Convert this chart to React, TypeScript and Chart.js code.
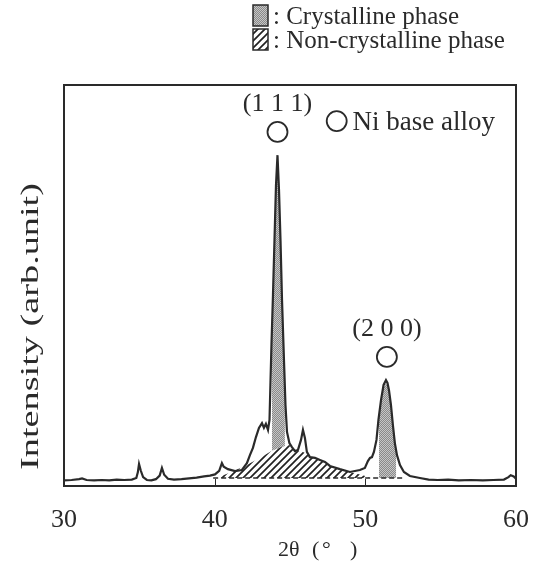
import React, { useEffect, useRef } from 'react';
import { Chart, registerables } from 'chart.js';

Chart.register(...registerables);

// ---- data (2θ in degrees, intensity in arbitrary units 0..100) ----
const angle = [
  30.0, 30.5, 31.0, 31.2, 31.5, 32.0, 32.5, 33.0, 33.5, 34.0, 34.5, 34.8, 34.9, 34.98, 35.1, 35.25, 35.5, 35.8,
  36.1, 36.35, 36.5, 36.65, 36.9, 37.3, 37.8, 38.3, 38.8, 39.3, 39.69, 40.02, 40.3, 40.48, 40.6, 40.88, 41.35,
  41.81, 42.14, 42.34, 42.54, 42.74, 42.94, 43.14, 43.27, 43.4, 43.54, 43.64, 43.7, 43.77, 43.87, 43.97, 44.07,
  44.17, 44.27, 44.37, 44.47, 44.6, 44.7, 44.8, 44.96, 45.13, 45.33, 45.53, 45.73, 45.86, 45.99, 46.12, 46.32,
  46.66, 46.99, 47.32, 47.65, 48.31, 48.98, 49.64, 49.97, 50.17, 50.31, 50.44, 50.57, 50.74, 50.87, 51.04,
  51.21, 51.37, 51.47, 51.57, 51.7, 51.83, 51.96, 52.1, 52.3, 52.56, 52.96, 53.62, 54.2, 54.8, 55.5, 56.2,
  57.0, 57.8, 58.5, 59.2, 59.5, 59.65, 59.85, 60.0,
];
const intensity = [
  1.4, 1.5, 1.7, 1.9, 1.5, 1.4, 1.5, 1.4, 1.6, 1.5, 1.6, 2.0, 3.4, 5.5, 3.8, 2.2, 1.5, 1.4,
  1.7, 2.6, 4.5, 2.8, 1.8, 1.6, 1.7, 1.9, 2.1, 2.4, 2.6, 2.9, 3.8, 5.7, 4.8, 4.2, 3.7,
  4.0, 5.7, 7.7, 9.5, 12.2, 14.5, 15.7, 14.5, 15.5, 14.0, 16.5, 25.2, 35.2, 47.6, 61.3, 75.0,
  82.5, 73.8, 61.3, 46.4, 31.4, 20.2, 13.5, 10.7, 9.7, 8.7, 9.0, 11.5, 14.0, 12.0, 8.5, 7.2,
  7.0, 6.5, 6.0, 5.0, 4.2, 3.5, 4.0, 4.5, 6.2, 7.0, 7.2, 8.5, 11.5, 16.5, 21.4,
  25.2, 26.4, 25.7, 23.9, 20.2, 15.2, 10.7, 7.7, 5.2, 3.5, 2.5, 2.0, 1.6, 1.5, 1.6, 1.4,
  1.5, 1.4, 1.5, 1.6, 2.2, 2.7, 2.4, 1.8,
];

// non-crystalline (amorphous) hump
const amorphAngle = [40.1, 41.0, 42.0, 43.0, 43.8, 44.5, 44.96, 45.13, 45.33, 45.53, 45.9, 46.12, 46.32, 46.66, 46.99, 47.32, 47.65, 48.31, 48.98, 49.5, 50.0, 50.3];
const amorphIntensity = [2.0, 3.3, 5.0, 7.0, 8.8, 9.8, 10.2, 9.5, 8.6, 8.7, 8.4, 8.0, 7.1, 6.9, 6.4, 5.9, 4.9, 4.1, 3.4, 3.0, 2.5, 2.0];

// crystalline phase areas
const crystal111Angle = [43.8, 43.8, 43.87, 43.97, 44.07, 44.17, 44.27, 44.37, 44.47, 44.6, 44.66, 44.66];
const crystal111Intensity = [2.0, 37.5, 46.0, 59.5, 73.0, 80.0, 72.0, 59.5, 44.5, 29.5, 23.0, 2.0];
const crystal200Angle = [50.9, 50.9, 51.04, 51.21, 51.37, 51.47, 51.57, 51.7, 51.83, 51.96, 52.05, 52.05];
const crystal200Intensity = [2.0, 16.5, 20.8, 24.5, 25.6, 25.0, 23.2, 19.5, 14.5, 10.2, 8.2, 2.0];

// dashed background line
const baselineAngle = [39.9, 52.6];
const baselineIntensity = [2.0, 2.0];

const xTicks = [30, 40, 50, 60];
const innerTicks = [40, 50];

const legendLabels = [': Crystalline phase', ': Non-crystalline phase'];
const yTitle = 'Intensity (arb.unit)';

const zip = (xs: number[], ys: number[]) => xs.map((x, i) => ({ x, y: ys[i] }));

const INK = '#2a2a2a';
const SERIF = '"Liberation Serif", "Times New Roman", serif';

function makePatterns(ctx: CanvasRenderingContext2D) {
  const g1 = document.createElement('canvas');
  g1.width = 2; g1.height = 2;
  const a = g1.getContext('2d')!;
  a.fillStyle = '#8a8a8a'; a.fillRect(0, 0, 2, 2);
  a.fillStyle = '#c6c6c6'; a.fillRect(0, 0, 1, 1); a.fillRect(1, 1, 1, 1);
  const grey = ctx.createPattern(g1, 'repeat')!;

  const s = 7;
  const g2 = document.createElement('canvas');
  g2.width = s; g2.height = s;
  const b = g2.getContext('2d')!;
  b.fillStyle = '#ffffff'; b.fillRect(0, 0, s, s);
  b.strokeStyle = '#222'; b.lineWidth = 1.7;
  b.beginPath();
  b.moveTo(-1, s + 1); b.lineTo(s + 1, -1);
  b.moveTo(-1, 1); b.lineTo(1, -1);
  b.moveTo(s - 1, s + 1); b.lineTo(s + 1, s - 1);
  b.stroke();
  const hatch = ctx.createPattern(g2, 'repeat')!;
  return { grey, hatch };
}

export default function App() {
  const ref = useRef<HTMLCanvasElement | null>(null);

  useEffect(() => {
    const canvas = ref.current!;
    const c2d = canvas.getContext('2d')!;
    const { grey, hatch } = makePatterns(c2d);

    const annot = {
      id: 'annot',
      afterDraw(chart: any) {
        const { ctx, chartArea: ca, scales } = chart;
        const xs = scales.x, ys = scales.y;
        ctx.save();
        // frame
        ctx.strokeStyle = INK;
        ctx.lineWidth = 2;
        ctx.strokeRect(ca.left, ca.top, ca.right - ca.left, ca.bottom - ca.top);
        // inner tick marks
        ctx.lineWidth = 1;
        innerTicks.forEach((t) => {
          const px = Math.round(xs.getPixelForValue(t)) + 0.5;
          ctx.beginPath();
          ctx.moveTo(px, ca.bottom);
          ctx.lineTo(px, ca.bottom - 7);
          ctx.stroke();
        });

        ctx.fillStyle = INK;
        ctx.font = `26px ${SERIF}`;
        ctx.textBaseline = 'alphabetic';
        ctx.lineWidth = 1.8;
        // (1 1 1)
        const p1 = xs.getPixelForValue(44.17);
        ctx.textAlign = 'center';
        ctx.fillText('(1 1 1)', p1, ys.getPixelForValue(93.5));
        ctx.beginPath();
        ctx.arc(p1, ys.getPixelForValue(88.3), 10, 0, Math.PI * 2);
        ctx.stroke();
        // (2 0 0)
        const p2 = xs.getPixelForValue(51.43);
        ctx.fillText('(2 0 0)', p2, ys.getPixelForValue(37.4));
        ctx.beginPath();
        ctx.arc(p2, ys.getPixelForValue(32.2), 10, 0, Math.PI * 2);
        ctx.stroke();
        // Ni base alloy
        ctx.beginPath();
        ctx.arc(xs.getPixelForValue(48.1), ys.getPixelForValue(91.0), 10, 0, Math.PI * 2);
        ctx.stroke();
        ctx.textAlign = 'left';
        ctx.font = `27px ${SERIF}`;
        ctx.fillText('Ni base alloy', xs.getPixelForValue(49.15), ys.getPixelForValue(88.8));

        // legend
        ctx.font = `25px ${SERIF}`;
        const lx = 253, lw = 15, lh = 21;
        const rows = [{ y: 5, fill: grey }, { y: 29, fill: hatch }];
        rows.forEach((r, i) => {
          ctx.fillStyle = r.fill;
          ctx.fillRect(lx, r.y, lw, lh);
          ctx.strokeStyle = INK;
          ctx.lineWidth = 1.5;
          ctx.strokeRect(lx, r.y, lw, lh);
          ctx.fillStyle = INK;
          ctx.fillText(legendLabels[i], lx + lw + 5, r.y + 19);
        });

        // x title
        const bx = ca.left + 214;
        const by = ca.bottom + 70;
        ctx.font = `22px ${SERIF}`;
        ctx.fillText('2θ', bx, by);
        ctx.fillText('(', bx + 34, by);
        ctx.fillText('°', bx + 44, by);
        ctx.fillText(')', bx + 72, by);

        // y title (rotated, stretched along its length as in the original figure)
        ctx.save();
        ctx.translate(ca.left - 26, ca.bottom - 16);
        ctx.rotate(-Math.PI / 2);
        ctx.font = `26px ${SERIF}`;
        ctx.textAlign = 'left';
        const w = ctx.measureText(yTitle).width;
        ctx.scale(287 / w, 1);
        ctx.fillText(yTitle, 0, 0);
        ctx.restore();

        ctx.restore();
      },
    };

    const none = 'rgba(0,0,0,0)';
    const chart = new Chart(canvas, {
      type: 'line',
      data: {
        datasets: [
          { data: zip(angle, intensity), borderColor: INK, borderWidth: 2.2, pointRadius: 0, fill: false, tension: 0, order: 0 },
          { data: zip(baselineAngle, baselineIntensity), borderColor: INK, borderWidth: 1.5, borderDash: [5, 3], pointRadius: 0, fill: false, order: 1 },
          { data: zip(amorphAngle, amorphIntensity), borderColor: none, borderWidth: 0, backgroundColor: hatch, fill: { value: 2 }, pointRadius: 0, order: 2 },
          { data: zip(crystal111Angle, crystal111Intensity), borderColor: none, borderWidth: 0, backgroundColor: grey, fill: { value: 2 }, pointRadius: 0, order: 3 },
          { data: zip(crystal200Angle, crystal200Intensity), borderColor: none, borderWidth: 0, backgroundColor: grey, fill: { value: 2 }, pointRadius: 0, order: 3 },
        ],
      } as any,
      options: {
        animation: false,
        responsive: true,
        maintainAspectRatio: false,
        layout: { padding: { left: 64, right: 24, top: 85, bottom: 0 } },
        plugins: { legend: { display: false }, tooltip: { enabled: false } },
        scales: {
          x: {
            type: 'linear',
            min: 30,
            max: 60,
            afterBuildTicks: (s: any) => { s.ticks = xTicks.map((v) => ({ value: v })); },
            afterFit: (s: any) => { s.height = 75; s.paddingLeft = 0; s.paddingRight = 0; },
            ticks: { font: { family: SERIF, size: 26 }, color: INK, padding: 19, maxRotation: 0, autoSkip: false },
            grid: { display: false, drawTicks: false },
            border: { display: false },
          },
          y: { type: 'linear', min: 0, max: 100, display: false },
        },
      } as any,
      plugins: [annot],
    });
    return () => chart.destroy();
  }, []);

  return (
    <div style={{ position: 'fixed', left: 0, top: 0, width: 540, height: 561, background: '#fff' }}>
      <canvas ref={ref} />
    </div>
  );
}
